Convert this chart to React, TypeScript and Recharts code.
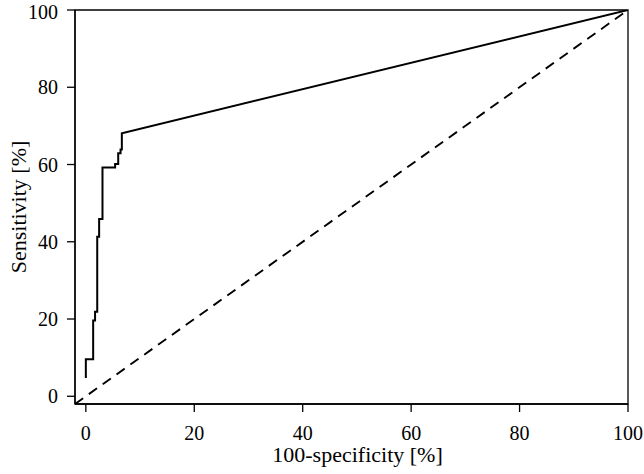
import React from "react";
import {
  LineChart,
  Line,
  XAxis,
  YAxis,
  ReferenceLine,
  ReferenceArea,
} from "recharts";

const fpr = [0, 0, 1.35, 1.35, 1.7, 1.7, 2.1, 2.1, 2.45, 2.45, 3.07, 3.07, 5.4, 5.4, 5.97, 5.97, 6.4, 6.4, 6.64, 6.64, 100];
const tpr = [4.7, 9.6, 9.6, 19.6, 19.6, 21.9, 21.9, 41.3, 41.3, 45.9, 45.9, 59.2, 59.2, 60.1, 60.1, 62.9, 62.9, 63.9, 63.9, 68.1, 100];
const xTicks = [0, 20, 40, 60, 80, 100];
const yTicks = [0, 20, 40, 60, 80, 100];
const xLabel = "100-specificity [%]";
const yLabel = "Sensitivity [%]";

const data = fpr.map((x, i) => ({ fpr: x, tpr: tpr[i] }));

const FONT = "'Liberation Serif', 'DejaVu Serif', serif";
const tickStyle = { fill: "#000", fontSize: 20, fontFamily: FONT };

export default function App() {
  return (
    <div style={{ position: "absolute", left: 0, top: 0, background: "#fff" }}>
      <LineChart
        width={644}
        height={474}
        data={data}
        margin={{ top: 10, right: 16, bottom: 0, left: 0 }}
      >
        <XAxis
          dataKey="fpr"
          type="number"
          domain={[-2, 100]}
          ticks={xTicks}
          allowDataOverflow
          height={70}
          tickSize={8}
          tickMargin={14}
          tick={tickStyle}
          axisLine={{ stroke: "#000", strokeWidth: 1.3 }}
          tickLine={{ stroke: "#000", strokeWidth: 1.3 }}
          label={{
            value: xLabel,
            position: "insideBottom",
            offset: 12,
            dx: 6,
            style: { fill: "#000", fontSize: 22, fontFamily: FONT, textAnchor: "middle" },
          }}
        />
        <YAxis
          type="number"
          domain={[-2, 100]}
          ticks={yTicks}
          allowDataOverflow
          width={75}
          tickSize={8}
          tickMargin={9}
          tick={tickStyle}
          axisLine={{ stroke: "#000", strokeWidth: 1.3 }}
          tickLine={{ stroke: "#000", strokeWidth: 1.3 }}
          label={{
            value: yLabel,
            angle: -90,
            position: "insideLeft",
            offset: 0,
            dx: 18,
            style: { fill: "#000", fontSize: 22, fontFamily: FONT, textAnchor: "middle" },
          }}
        />
        <ReferenceArea
          x1={-2}
          x2={100}
          y1={-2}
          y2={100}
          fill="none"
          fillOpacity={0}
          stroke="#000"
          strokeWidth={1.3}
          ifOverflow="visible"
        />
        <ReferenceLine
          segment={[
            { x: -2, y: -2 },
            { x: 100, y: 100 },
          ]}
          stroke="#000"
          strokeWidth={1.9}
          strokeDasharray="10 7"
          ifOverflow="visible"
        />
        <Line
          dataKey="tpr"
          type="linear"
          stroke="#000"
          strokeWidth={2}
          dot={false}
          activeDot={false}
          isAnimationActive={false}
        />
      </LineChart>
    </div>
  );
}
